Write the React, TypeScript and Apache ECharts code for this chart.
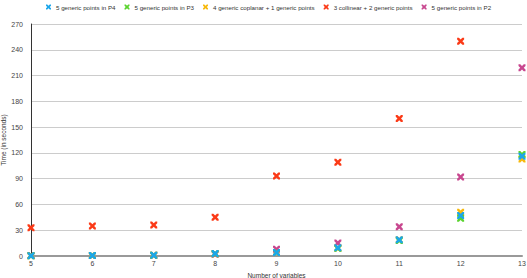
import React, { useEffect, useRef } from "react";
import * as echarts from "echarts";

const variables = [5, 6, 7, 8, 9, 10, 11, 12, 13];
const p4 = [0.3, 0.5, 1, 3, 4, 9.5, 19, 47, 116];
const p3 = [0.3, 0.5, 1, 2.5, 4, 9, 18, 44, 118];
const coplanar = [0.3, 0.5, 1, 2.5, 4, 9, 19, 51, 113];
const collinear = [33, 35, 36, 45, 93, 109, 160, 250];
const p2 = [0.5, 0.5, 1, 2, 8, 15, 34, 92, 219];
const yTicks = [0, 30, 60, 90, 120, 150, 180, 210, 240, 270];

const X_SYMBOL =
  "path://M0,0 L2.5,0 L5,2.5 L7.5,0 L10,0 L10,2.5 L7.5,5 L10,7.5 L10,10 L7.5,10 L5,7.5 L2.5,10 L0,10 L0,7.5 L2.5,5 L0,2.5 Z";

const seriesDefs = [
  { name: "5 generic points in P2", data: p2, color: "#c8478f" },
  { name: "3 collinear + 2 generic points", data: collinear, color: "#fb3a17" },
  { name: "4 generic coplanar + 1 generic points", data: coplanar, color: "#f7b90c" },
  { name: "5 generic points in P3", data: p3, color: "#5ad32e" },
  { name: "5 generic points in P4", data: p4, color: "#1ba6ea" },
];
const legendOrder = [
  "5 generic points in P4",
  "5 generic points in P3",
  "4 generic coplanar + 1 generic points",
  "3 collinear + 2 generic points",
  "5 generic points in P2",
];

export default function App() {
  const ref = useRef<HTMLDivElement>(null);
  useEffect(() => {
    if (!ref.current) return;
    const chart = echarts.init(ref.current, null, { renderer: "svg" });
    chart.setOption({
      animation: false,
      textStyle: { fontFamily: "Liberation Sans, Arial, sans-serif" },
      legend: {
        data: legendOrder.map((n) => ({ name: n, icon: X_SYMBOL })),
        top: 4,
        left: 46,
        width: 475,
        padding: 0,
        itemWidth: 5,
        itemHeight: 5,
        itemGap: 9,
        textStyle: { fontSize: 6.2, color: "#333" },
      },
      grid: { left: 31, right: 5, top: 24, bottom: 22, containLabel: false, outerBoundsMode: "none" },
      xAxis: {
        type: "value",
        min: 5,
        max: 13,
        interval: 1,
        name: "Number of variables",
        nameLocation: "middle",
        nameGap: 16,
        nameMoveOverlap: false,
        nameTextStyle: { fontSize: 6.5, color: "#333" },
        axisLine: { show: true, lineStyle: { color: "#999", width: 2 } },
        axisTick: { show: false },
        splitLine: { show: false },
        axisLabel: { fontSize: 7, color: "#444", margin: 4 },
      },
      yAxis: {
        type: "value",
        min: 0,
        max: 270,
        interval: 30,
        name: "Time (in seconds)",
        nameLocation: "middle",
        nameGap: 24,
        nameRotate: 90,
        nameMoveOverlap: false,
        nameTextStyle: { fontSize: 6.5, color: "#333" },
        axisLine: { show: true, lineStyle: { color: "#333", width: 1 } },
        axisTick: { show: false },
        splitLine: { show: true, lineStyle: { color: "#ccc", width: 1 } },
        axisLabel: {
          fontSize: 7,
          color: "#444",
          margin: 8,
          formatter: (v: number) => (yTicks.includes(v) ? String(v) : ""),
        },
      },
      series: seriesDefs.map((s) => ({
        name: s.name,
        type: "scatter",
        symbol: X_SYMBOL,
        symbolSize: 7,
        itemStyle: { color: s.color, opacity: 1 },
        data: s.data.map((v, i) => [variables[i], v]),
        clip: false,
      })),
    });
    return () => chart.dispose();
  }, []);
  return (
    <div
      ref={ref}
      style={{ position: "fixed", left: 0, top: 0, width: 527, height: 278, background: "#fff" }}
    />
  );
}
